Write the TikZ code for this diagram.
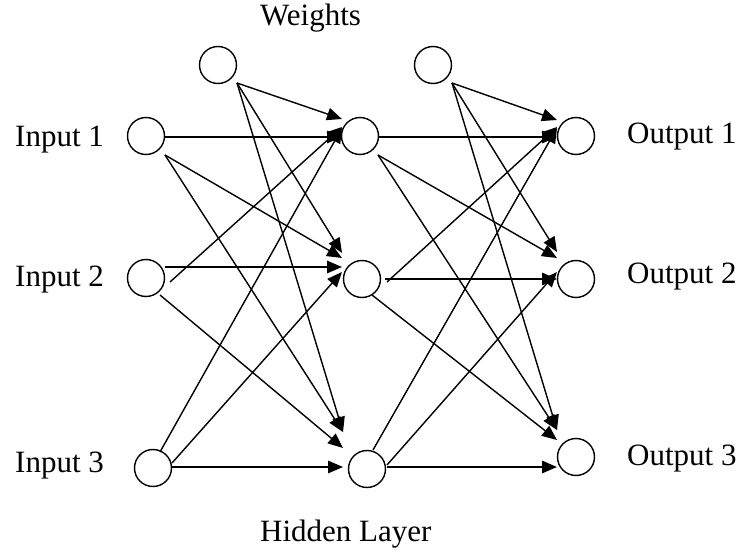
\documentclass[tikz,border=0pt]{standalone}
\usepackage{fontspec}
\setmainfont{Liberation Serif}
\usetikzlibrary{arrows.meta,calc}
\tikzset{
  neuron/.style={circle,draw,line width=1.4pt,minimum size=37pt,inner sep=0pt,fill=white},
  lbl/.style={anchor=base west,inner sep=0pt,font=\fontsize{31}{36}\selectfont},
  arr/.style={line width=1.4pt,-{Triangle[length=15pt,width=12.5pt]}}
}
\begin{document}
\begin{tikzpicture}[x=1pt,y=-1pt]
\useasboundingbox[fill=white] (0,0) rectangle (740,554);
% neurons
\node[neuron] (B1) at (218,65) {};
\node[neuron] (I1) at (146,136) {};
\node[neuron] (I2) at (146,278) {};
\node[neuron] (I3) at (153,468) {};
\node[neuron] (H1) at (360,136) {};
\node[neuron] (H2) at (362,279) {};
\node[neuron] (H3) at (367,469) {};
\node[neuron] (B2) at (433,65) {};
\node[neuron] (O1) at (576,136) {};
\node[neuron] (O2) at (576,279) {};
\node[neuron] (O3) at (576,457) {};
% labels
\node[lbl] (t1) at (15,146) {Input 1};
\node[lbl] (t2) at (15,286) {Input 2};
\node[lbl] (t3) at (15,472) {Input 3};
\node[lbl] (t4) at (627,143) {Output 1};
\node[lbl] (t5) at (627,283) {Output 2};
\node[lbl] (t6) at (627,465) {Output 3};
\node[lbl] (t7) at (260,25) {Weights};
\node[lbl] (t8) at (260,541) {Hidden Layer};
% layer 1
\draw[arr] ($(B1)+(19,18)$) -- ($(H1)+(-18,-17)$);
\draw[arr] ($(B1)+(19,18)$) -- ($(H2)+(-20,-26)$);
\draw[arr] ($(B1)+(19,18)$) -- ($(H3)+(-24,-37)$);
\draw[arr] ($(I1)+(19,1)$) -- ($(H1)+(-18,1)$);
\draw[arr] ($(I1)+(19,19)$) -- ($(H2)+(-20,-21)$);
\draw[arr] ($(I1)+(19,19)$) -- ($(H3)+(-24,-37)$);
\draw[arr] ($(I2)+(24,4)$) -- ($(H1)+(-18,-9)$);
\draw[arr] ($(I2)+(19,-11)$) -- ($(H2)+(-20,-12)$);
\draw[arr] ($(I2)+(14,17)$) -- ($(H3)+(-24,-21)$);
\draw[arr] ($(I3)+(7,-16)$) -- ($(H1)+(-18,-8)$);
\draw[arr] ($(I3)+(19,-5)$) -- ($(H2)+(-20,-7)$);
\draw[arr] ($(I3)+(19,-1)$) -- ($(H3)+(-24,-2)$);
% layer 2
\draw[arr] ($(B2)+(19,18)$) -- ($(O1)+(-19,-16)$);
\draw[arr] ($(B2)+(19,18)$) -- ($(O2)+(-19,-27)$);
\draw[arr] ($(B2)+(19,18)$) -- ($(O3)+(-19,-27)$);
\draw[arr] ($(H1)+(18,1)$) -- ($(O1)+(-19,1)$);
\draw[arr] ($(H1)+(18,19)$) -- ($(O2)+(-19,-21)$);
\draw[arr] ($(H1)+(18,19)$) -- ($(O3)+(-19,-27)$);
\draw[arr] ($(H2)+(25,3)$) -- ($(O1)+(-19,-9)$);
\draw[arr] ($(H2)+(23,0)$) -- ($(O2)+(-19,0)$);
\draw[arr] ($(H2)+(10,16)$) -- ($(O3)+(-19,-17)$);
\draw[arr] ($(H3)+(6,-19)$) -- ($(O1)+(-19,-8)$);
\draw[arr] ($(H3)+(20,-4)$) -- ($(O2)+(-19,-7)$);
\draw[arr] ($(H3)+(20,-2)$) -- ($(O3)+(-19,10)$);
\end{tikzpicture}
\end{document}
